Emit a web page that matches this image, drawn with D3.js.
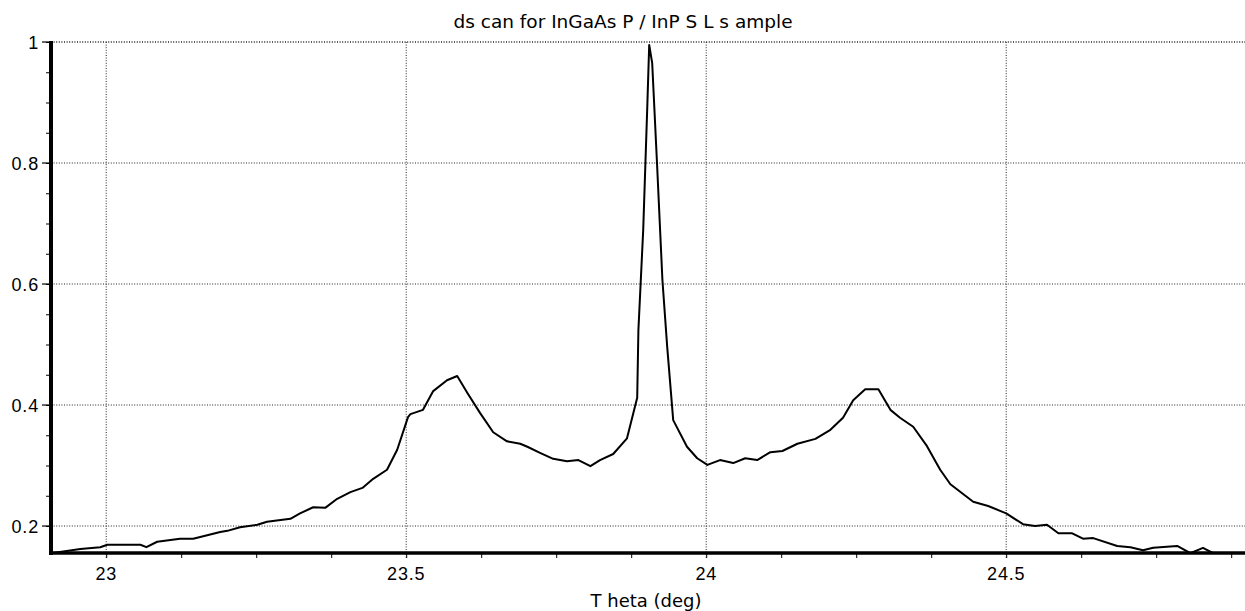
<!DOCTYPE html>
<html>
<head>
<meta charset="utf-8">
<script src="https://cdn.jsdelivr.net/npm/d3@7"></script>
<style>
  body { margin: 0; background: #fff; }
  svg { display: block; }
  .grid line { stroke: #222; stroke-width: 1; stroke-dasharray: 1,1.6; }
  .tick-label { font-family: "Liberation Sans", Arial, sans-serif; font-size: 18px; letter-spacing: 0.8px; fill: #000; }
</style>
</head>
<body>
<svg width="1245" height="611"></svg>
<script>
// theta (deg) of each sample
let theta = [22.907, 22.957, 22.990, 23.002, 23.057, 23.067, 23.085, 23.123, 23.145, 23.190,
  23.202, 23.223, 23.252, 23.268, 23.307, 23.323, 23.345, 23.365, 23.385, 23.407,
  23.427, 23.445, 23.468, 23.485, 23.503, 23.507, 23.528, 23.545, 23.568, 23.585,
  23.602, 23.623, 23.645, 23.668, 23.690, 23.702, 23.723, 23.745, 23.768, 23.787,
  23.807, 23.823, 23.845, 23.868, 23.885, 23.887, 23.895, 23.902, 23.905, 23.910,
  23.918, 23.927, 23.935, 23.945, 23.968, 23.985, 24.002, 24.023, 24.045, 24.065,
  24.085, 24.107, 24.127, 24.152, 24.182, 24.207, 24.228, 24.245, 24.265, 24.287,
  24.307, 24.323, 24.345, 24.368, 24.390, 24.407, 24.445, 24.470, 24.500, 24.528,
  24.548, 24.568, 24.587, 24.610, 24.628, 24.645, 24.685, 24.707, 24.728, 24.745,
  24.785, 24.807, 24.828, 24.845, 24.860];
// normalised intensity
let intensity = [0.155, 0.162, 0.165, 0.169, 0.169, 0.165, 0.174, 0.179, 0.179, 0.190,
  0.192, 0.198, 0.202, 0.207, 0.212, 0.221, 0.231, 0.230, 0.245, 0.256,
  0.263, 0.278, 0.293, 0.326, 0.380, 0.385, 0.392, 0.423, 0.441, 0.448,
  0.420, 0.387, 0.355, 0.340, 0.336, 0.331, 0.321, 0.311, 0.307, 0.309,
  0.299, 0.309, 0.319, 0.345, 0.412, 0.524, 0.689, 0.899, 0.995, 0.965,
  0.800, 0.607, 0.496, 0.375, 0.331, 0.312, 0.301, 0.309, 0.304, 0.312,
  0.309, 0.322, 0.324, 0.336, 0.344, 0.359, 0.379, 0.408, 0.426, 0.426,
  0.392, 0.379, 0.364, 0.332, 0.293, 0.269, 0.240, 0.233, 0.221, 0.203,
  0.200, 0.202, 0.188, 0.188, 0.179, 0.180, 0.167, 0.165, 0.160, 0.164,
  0.167, 0.155, 0.164, 0.155, 0.154];

let xTicks = [23, 23.5, 24, 24.5];
let yTicks = [0.2, 0.4, 0.6, 0.8, 1];
let yTickLabels = ["0.2", "0.4", "0.6", "0.8", "1"];

let svg = d3.select("svg");
let margin = { top: 42, right: 0, bottom: 58, left: 51 },
    width = +svg.attr("width") - margin.left - margin.right,
    height = +svg.attr("height") - margin.top - margin.bottom;

let x = d3.scaleLinear().domain([22.908, 24.898]).range([0, width]);
let y = d3.scaleLinear().domain([0.1554, 1]).range([height, 0]);

let g = svg.append("g")
    .attr("transform", "translate(" + margin.left + "," + margin.top + ")");

svg.append("defs").append("clipPath").attr("id", "plot")
  .append("rect").attr("x", 0).attr("y", -3).attr("width", width).attr("height", height + 3);

// grid
let grid = g.append("g").classed("grid", true);
grid.selectAll(".gx").data(xTicks).enter().append("line")
    .attr("x1", d => x(d)).attr("x2", d => x(d))
    .attr("y1", 0).attr("y2", height + 6);
grid.selectAll(".gy").data(yTicks).enter().append("line")
    .attr("x1", 0).attr("x2", width)
    .attr("y1", d => y(d)).attr("y2", d => y(d))
    .style("stroke-width", d => d === 1 ? 1.6 : 1);

// minor ticks
let xMinor = d3.range(22.875, 24.9, 0.125).filter(d => d >= 22.908);
let yMinor = d3.range(0.2, 1.001, 0.05);
let xAxis = d3.axisBottom(x).tickValues(xMinor).tickSize(5).tickFormat("");
let yAxis = d3.axisLeft(y).tickValues(yMinor).tickSize(5).tickFormat("");

let gx = g.append("g").attr("transform", "translate(0," + height + ")").call(xAxis);
let gy = g.append("g").call(yAxis);
[gx, gy].forEach(a => {
  a.select(".domain").remove();
  a.selectAll(".tick line").attr("stroke", "#000").attr("stroke-width", 1);
});

// major tick marks on y
g.selectAll(".ymaj").data(yTicks).enter().append("line")
    .attr("x1", -9).attr("x2", 0)
    .attr("y1", d => y(d)).attr("y2", d => y(d))
    .attr("stroke", "#000").attr("stroke-width", 1.2);

// tick labels
g.selectAll(".xl").data(xTicks).enter().append("text")
    .classed("tick-label", true)
    .attr("x", d => x(d)).attr("y", height + 27)
    .attr("text-anchor", "middle")
    .text(d => d);
g.selectAll(".yl").data(yTicks).enter().append("text")
    .classed("tick-label", true)
    .attr("x", -12).attr("y", d => y(d) + 6.5)
    .attr("text-anchor", "end")
    .text((d, i) => yTickLabels[i]);

// curve
let pts = theta.map((t, i) => [t, intensity[i]]);
let line = d3.line().x(d => x(d[0])).y(d => y(d[1]));
g.append("path")
    .datum(pts)
    .attr("clip-path", "url(#plot)")
    .attr("fill", "none")
    .attr("stroke", "#000")
    .attr("stroke-width", 2)
    .attr("stroke-linejoin", "round")
    .attr("d", line);

// axes lines (thick)
g.append("line").attr("x1", 0).attr("x2", 0).attr("y1", -1).attr("y2", height + 2)
    .attr("stroke", "#000").attr("stroke-width", 4);
g.append("line").attr("x1", -2).attr("x2", width).attr("y1", height).attr("y2", height)
    .attr("stroke", "#000").attr("stroke-width", 3.5);

// titles
svg.append("text")
    .attr("x", 623).attr("y", 28)
    .attr("text-anchor", "middle")
    .style("font-family", "\"DejaVu Sans\", sans-serif")
    .style("font-size", "18.5px")
    .text("ds can for InGaAs P / InP S L s ample");

svg.append("text")
    .attr("x", 646).attr("y", 607)
    .attr("text-anchor", "middle")
    .style("font-family", "\"DejaVu Sans\", sans-serif")
    .style("font-size", "18px")
    .text("T heta (deg)");
</script>
</body>
</html>
